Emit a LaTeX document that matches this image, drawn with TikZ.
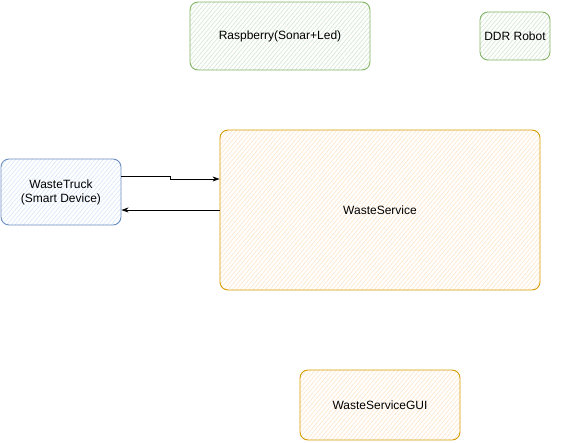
\documentclass[tikz,border=0pt]{standalone}
\usepackage{fontspec}
\setmainfont{Liberation Sans}
\usetikzlibrary{patterns.meta,arrows.meta}
\definecolor{gstroke}{HTML}{82B366}
\definecolor{gfill}{HTML}{D5E8D4}
\definecolor{bstroke}{HTML}{6C8EBF}
\definecolor{bfill}{HTML}{DAE8FC}
\definecolor{ostroke}{HTML}{D79B00}
\definecolor{ofill}{HTML}{FFE6CC}
\begin{document}
\begin{tikzpicture}[x=1pt,y=-1pt,
  sbox/.style={draw=#1stroke,line width=0.9pt,rounded corners=8pt,
    pattern={Lines[angle=50,distance=3.2pt,line width=0.7pt]},pattern color=#1fill,
    font=\fontsize{12pt}{14pt}\selectfont,align=center,inner sep=0pt},
  conn/.style={-{Stealth[length=7pt,width=5pt]},line width=0.7pt,black}]
\useasboundingbox (0,0) rectangle (561,442);
\node[sbox=g,minimum width=180pt,minimum height=68pt] (rasp) at (280,36) {Raspberry(Sonar+Led)};
\node[sbox=g,minimum width=70pt,minimum height=48pt] (ddr) at (515,36) {DDR Robot};
\node[sbox=b,minimum width=120pt,minimum height=66pt] (truck) at (61,192) {WasteTruck\\(Smart Device)};
\node[sbox=o,minimum width=320pt,minimum height=160pt] (ws) at (380,210) {WasteService};
\node[sbox=o,minimum width=160pt,minimum height=70pt] (gui) at (380,405) {WasteServiceGUI};
\coordinate (m1) at (170,176);
\coordinate (m2) at (170,179);
\draw[conn] (truck.east |- m1) -- (m1) -- (m2) -- (ws.west |- m2);
\draw[conn] (ws.west |- 0,210) -- (truck.east |- 0,210);
\end{tikzpicture}
\end{document}
